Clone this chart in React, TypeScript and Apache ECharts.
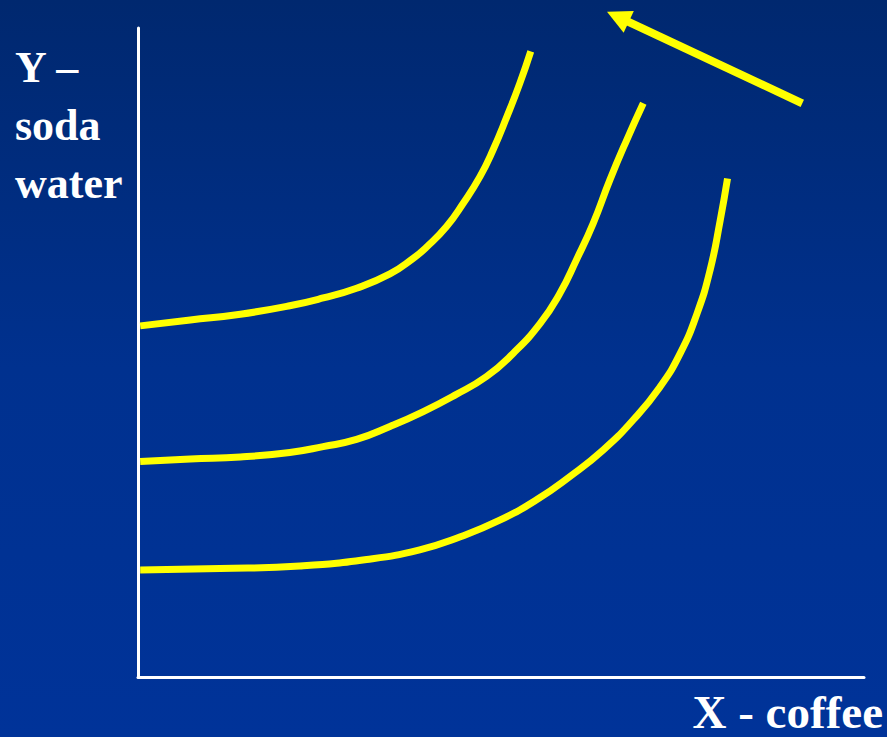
import React, { useEffect, useRef } from "react";
import * as echarts from "echarts";

// Indifference curves (x: coffee, y: soda water), arbitrary units 0–100
const curve1X = [0.3, 7.2, 14.1, 20.9, 25.5, 30.1, 34.7, 37.9, 39.8, 42.5, 44.8, 47.1, 48.9, 50.8, 52.6, 54.1];
const curve1Y = [54.1, 55.0, 55.9, 57.2, 58.4, 59.9, 62.1, 64.5, 66.3, 69.4, 73.0, 77.1, 81.2, 86.3, 91.5, 96.4];
const curve2X = [0.3, 7.2, 14.1, 20.9, 25.5, 30.1, 34.7, 39.3, 43.6, 48.0, 51.7, 55.4, 58.1, 60.4, 62.7, 65.0, 67.3, 69.6];
const curve2Y = [33.2, 33.6, 33.9, 34.6, 35.5, 36.6, 38.6, 40.9, 43.4, 46.3, 49.9, 54.5, 59.1, 64.3, 69.9, 76.6, 82.7, 88.4];
const curve3X = [0.3, 11.3, 22.3, 31.5, 38.8, 44.4, 49.9, 54.9, 59.5, 64.1, 68.2, 71.9, 74.7, 77.0, 78.8, 80.2, 81.2];
const curve3Y = [16.5, 16.7, 17.1, 18.1, 19.6, 21.6, 24.2, 27.3, 30.9, 35.0, 39.6, 44.7, 49.9, 56.0, 62.7, 70.4, 76.8];
const arrowFrom = [91.5, 88.4];
const arrowTo = [64.6, 102.5];
const yLabelLines = ["Y –", "soda", "water"];
const xLabel = "X - coffee";

const zip = (xs: number[], ys: number[]) => xs.map((x, i) => [x, ys[i]]);

export default function App() {
  const ref = useRef<HTMLDivElement>(null);
  useEffect(() => {
    if (!ref.current) return;
    const chart = echarts.init(ref.current, null, { renderer: "svg" });
    const yellow = "#ffff00";
    const mkCurve = (xs: number[], ys: number[]) => ({
      type: "line",
      data: zip(xs, ys),
      smooth: 0.5,
      showSymbol: false,
      symbol: "none",
      lineStyle: { color: yellow, width: 7 },
      clip: false,
    });
    const font = '"Liberation Serif", "Times New Roman", serif';
    chart.setOption({
      animation: false,
      backgroundColor: {
        type: "linear",
        x: 0,
        y: 0,
        x2: 0,
        y2: 1,
        colorStops: [
          { offset: 0, color: "#00286f" },
          { offset: 0.5, color: "#00318f" },
          { offset: 1, color: "#003399" },
        ],
      },
      grid: { left: 138, top: 28, right: 23, bottom: 60 },
      xAxis: {
        type: "value",
        min: 0,
        max: 100,
        axisLine: { show: true, onZero: false, lineStyle: { color: "#ffffff", width: 3 } },
        axisTick: { show: false },
        axisLabel: { show: false },
        splitLine: { show: false },
      },
      yAxis: {
        type: "value",
        min: 0,
        max: 100,
        axisLine: { show: true, onZero: false, lineStyle: { color: "#ffffff", width: 3 } },
        axisTick: { show: false },
        axisLabel: { show: false },
        splitLine: { show: false },
      },
      series: [
        mkCurve(curve1X, curve1Y),
        mkCurve(curve2X, curve2Y),
        mkCurve(curve3X, curve3Y),
        {
          type: "custom",
          clip: false,
          silent: true,
          encode: { x: [0, 2], y: [1, 3] },
          data: [[arrowFrom[0], arrowFrom[1], arrowTo[0], arrowTo[1]]],
          renderItem: (params: any, api: any) => {
            const p0 = api.coord([api.value(0), api.value(1)]);
            const p1 = api.coord([api.value(2), api.value(3)]);
            const dx = p1[0] - p0[0];
            const dy = p1[1] - p0[1];
            const len = Math.sqrt(dx * dx + dy * dy);
            const ux = dx / len;
            const uy = dy / len;
            const nx = -uy;
            const ny = ux;
            const headLen = 24;
            const headHalf = 12;
            const bx = p1[0] - ux * headLen;
            const by = p1[1] - uy * headLen;
            return {
              type: "group",
              children: [
                {
                  type: "line",
                  shape: { x1: p0[0], y1: p0[1], x2: bx + ux * 2, y2: by + uy * 2 },
                  style: { stroke: yellow, lineWidth: 8 },
                },
                {
                  type: "polygon",
                  shape: {
                    points: [
                      [p1[0], p1[1]],
                      [bx + nx * headHalf, by + ny * headHalf],
                      [bx - nx * headHalf, by - ny * headHalf],
                    ],
                  },
                  style: { fill: yellow },
                },
              ],
            };
          },
        },
      ],
      graphic: [
        ...yLabelLines.map((t, i) => ({
          type: "text",
          left: 15,
          top: 45 + i * 58,
          style: { text: t, fill: "#ffffff", font: `bold 44px ${font}` },
        })),
        {
          type: "text",
          right: 4,
          top: 688,
          style: { text: xLabel, fill: "#ffffff", font: `bold 47px ${font}` },
        },
      ],
    });
    return () => chart.dispose();
  }, []);
  return (
    <div
      ref={ref}
      style={{ position: "fixed", left: 0, top: 0, width: 887, height: 737 }}
    />
  );
}
